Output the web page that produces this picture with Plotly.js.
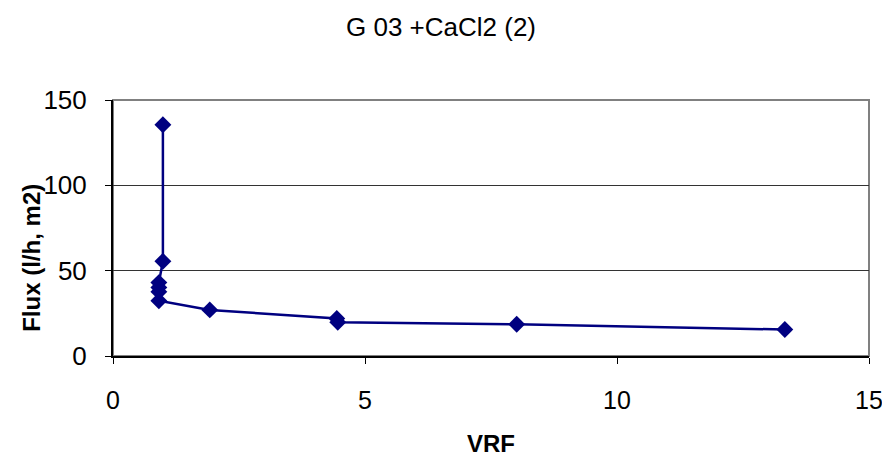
<!DOCTYPE html>
<html>
<head>
<meta charset="utf-8">
<script src="https://cdn.plot.ly/plotly-3.0.1.min.js"></script>
<style>html,body{margin:0;padding:0;background:#fff;}#chart{width:882px;height:456px;}</style>
</head>
<body>
<div id="chart"></div>
<script>
var chartTitle = 'G 03 +CaCl2 (2)';
var xTitle = 'VRF';
var yTitle = 'Flux (l/h, m2)';
var vrf  = [0.99, 0.99, 0.91, 0.91, 0.91, 0.91, 1.92, 4.44, 4.46, 8.01, 13.33];
var flux = [135.5, 55.5, 43, 40.2, 37.6, 32.4, 27, 22, 19.8, 18.6, 15.5];
var xTicks = [0, 5, 10, 15];
var yTicks = [0, 50, 100, 150];

var font = 'Liberation Sans, Arial, sans-serif';
var trace = {
  x: vrf, y: flux, type: 'scatter', mode: 'lines+markers',
  line: {color: '#000080', width: 2.5},
  marker: {symbol: 'diamond', size: 13, color: '#000080'},
  hoverinfo: 'none', showlegend: false
};
var layout = {
  width: 882, height: 456,
  margin: {l: 113, r: 13, t: 100, b: 100},
  paper_bgcolor: '#ffffff', plot_bgcolor: '#ffffff',
  font: {family: font, size: 26, color: '#000'},
  title: {text: chartTitle, font: {family: font, size: 26, color: '#000'}, x: 0.5, xanchor: 'center', y: 0.94, yanchor: 'middle'},
  xaxis: {
    range: [0, 15], tickvals: xTicks, ticktext: xTicks.map(String),
    showgrid: false, zeroline: false,
    showline: true, linecolor: '#000', linewidth: 2,
    ticks: 'outside', ticklen: 6, tickwidth: 1, tickcolor: '#000',
    ticklabelstandoff: 15, ticklabeloverflow: 'allow',
    tickfont: {family: font, size: 25, color: '#000'}
  },
  yaxis: {
    range: [0, 150], tickvals: yTicks, ticktext: yTicks.map(String),
    showgrid: true, gridcolor: '#333', gridwidth: 1, zeroline: false,
    showline: true, linecolor: '#000', linewidth: 2,
    ticks: 'outside', ticklen: 6, tickwidth: 1, tickcolor: '#000',
    ticklabelstandoff: 13,
    tickfont: {family: font, size: 26, color: '#000'}
  },
  shapes: [{type: 'rect', xref: 'paper', yref: 'paper', x0: 0, x1: 1, y0: 0, y1: 1,
            line: {color: '#808080', width: 2}, layer: 'below'}],
  annotations: [
    {text: '<b>' + xTitle + '</b>', xref: 'paper', yref: 'paper', x: 0.5, y: -0.34, showarrow: false,
     xanchor: 'center', yanchor: 'middle', font: {family: font, size: 24, color: '#000'}},
    {text: '<b>' + yTitle + '</b>', xref: 'paper', yref: 'paper', x: -0.108, y: 0.385, showarrow: false,
     textangle: -90, xanchor: 'center', yanchor: 'middle', font: {family: font, size: 24, color: '#000'}}
  ]
};
Plotly.newPlot('chart', [trace], layout, {staticPlot: true, displayModeBar: false});
</script>
</body>
</html>
